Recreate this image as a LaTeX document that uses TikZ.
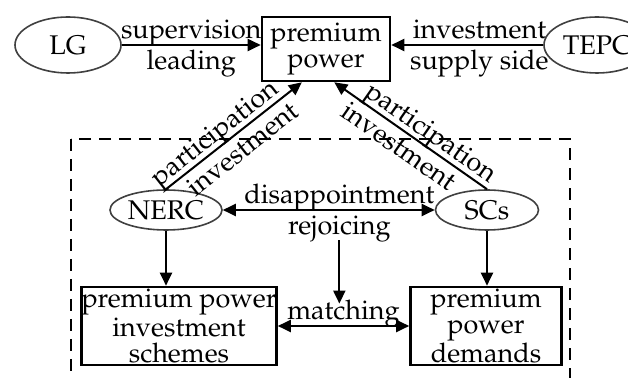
\documentclass[tikz,border=0pt]{standalone}
\usepackage[T1]{fontenc}
\usepackage{mathpazo}
\usetikzlibrary{shapes.geometric,arrows.meta,positioning}

\begin{document}
\begin{tikzpicture}[x=0.5pt,y=-0.5pt,>={Triangle[length=6.5pt,width=6pt]},font=\fontsize{13.5}{13}\selectfont]
\tikzstyle{B}=[draw,line width=1.3pt,inner sep=0pt,align=center]
\tikzstyle{O}=[draw=black!75,ellipse,line width=0.8pt,inner sep=0pt]
\tikzstyle{T}=[inner sep=0.5pt,text depth=0.2em,text height=0.72em]
\tikzstyle{A}=[line width=1pt]
\useasboundingbox (0,0) rectangle (628,378);
% actors
\node[O,minimum width=53pt,minimum height=28pt] (lg) at (68,45) {LG};
\node[B,minimum width=64pt,minimum height=32pt] (pp) at (326,49) {premium\\power};
\node[O,minimum width=53pt,minimum height=28pt] (tepc) at (597,45) {TEPC};
\node[O,minimum width=56pt,minimum height=20pt] (nerc) at (166,210) {NERC};
\node[O,minimum width=51.5pt,minimum height=20pt] (scs) at (487,210) {SCs};
\node[B,minimum width=97pt,minimum height=39pt] (pl) at (179,326) {premium power\\investment\\schemes};
\node[B,minimum width=75.5pt,minimum height=39pt] (pr) at (486,326) {premium\\power\\demands};
% market boundary
\draw[dash pattern=on 6pt off 4pt,line width=1pt] (71,139) rectangle (570,400);
% links
\draw[A,->] (lg) -- (lg -| pp.west) node[T,midway,above] {supervision} node[T,midway,below=4pt] {leading};
\draw[A,->] (tepc) -- (tepc -| pp.east) node[T,pos=0.42,above] {investment} node[T,pos=0.42,below=4pt] {supply side};
\draw[A,->] (nerc.north) -- (pp.234) node[T,pos=0.42,above,sloped] {participation} node[T,pos=0.49,below=4pt,sloped] {investment};
\draw[A,->] (scs.north) -- (pp.284) node[T,pos=0.42,above,sloped] {participation} node[T,pos=0.52,below=4pt,sloped] {investment};
\draw[A,<->] (nerc) -- (scs) node[T,pos=0.55,above] (dis) {disappointment} node[T,pos=0.55,below=4pt] (rej) {rejoicing};
\draw[A,<->] (pl) -- (pr) node[T,midway,above] (mat) {matching};
\draw[A,->] (rej) -- (rej |- mat.north);
\draw[A,->] (nerc) -- (nerc |- pl.north);
\draw[A,->] (scs) -- (scs |- pr.north);
\end{tikzpicture}
\end{document}
